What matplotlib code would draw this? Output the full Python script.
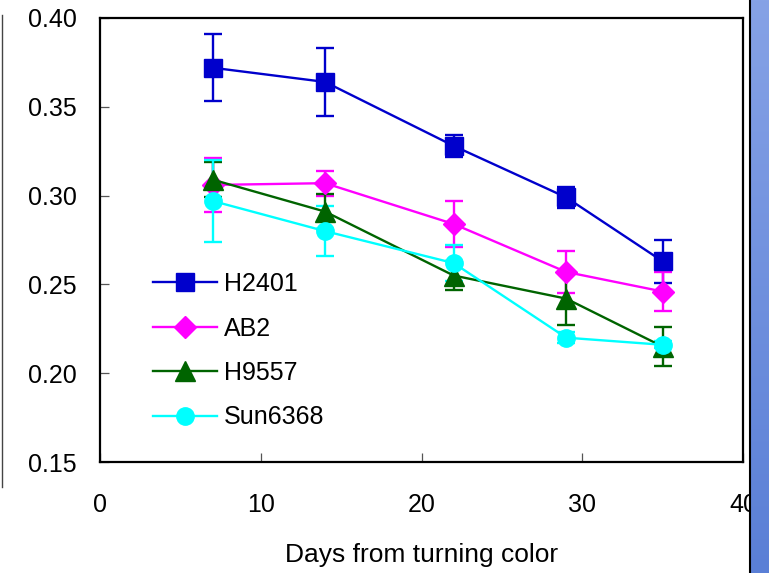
import matplotlib
matplotlib.use("Agg")
import matplotlib.pyplot as plt
import numpy as np
from matplotlib.lines import Line2D
from matplotlib.colors import LinearSegmentedColormap

plt.rcParams['font.family'] = ['Liberation Sans', 'DejaVu Sans']

days = [7, 14, 22, 29, 35]
series_names = ["H2401", "AB2", "H9557", "Sun6368"]
h2401 = [0.372, 0.364, 0.328, 0.299, 0.263]
h2401_err = [0.019, 0.019, 0.006, 0.006, 0.012]
ab2 = [0.306, 0.307, 0.284, 0.257, 0.246]
ab2_err = [0.015, 0.007, 0.013, 0.012, 0.011]
h9557 = [0.309, 0.291, 0.255, 0.242, 0.215]
h9557_err = [0.010, 0.010, 0.008, 0.015, 0.011]
sun6368 = [0.297, 0.280, 0.262, 0.220, 0.216]
sun6368_err = [0.023, 0.014, 0.010, 0.003, 0.002]

colors = ["#0000cc", "#ff00ff", "#006400", "#00ffff"]
markers = ["s", "D", "^", "o"]
msizes = [13, 11, 14, 12.5]

fig = plt.figure(figsize=(7.69, 5.73), dpi=100)
ax = fig.add_axes([100/769, 1-462/573, (743-100)/769, (462-18)/573])

for name, vals, errs, c, m, ms in zip(series_names, [h2401, ab2, h9557, sun6368],
                                      [h2401_err, ab2_err, h9557_err, sun6368_err],
                                      colors, markers, msizes):
    ax.errorbar(days, vals, yerr=errs, color=c, marker=m, markersize=ms,
                linewidth=1.7, elinewidth=1.7, capsize=6.5, capthick=1.7, label=name)

ax.set_xlim(0, 40)
ax.set_ylim(0.15, 0.40)
ax.set_xticks([0, 10, 20, 30, 40])
ax.set_yticks([0.15, 0.20, 0.25, 0.30, 0.35, 0.40])
ax.set_yticklabels(["0.15", "0.20", "0.25", "0.30", "0.35", "0.40"])
ax.tick_params(direction='in', length=6.5, width=0.9, color="#555555", labelsize=18,
               top=False, right=False)
ax.tick_params(axis='y', pad=17)
ax.tick_params(axis='x', pad=22)
for s in ax.spines.values():
    s.set_linewidth(1.6)
ax.set_xlabel("Days from turning color", fontsize=19, labelpad=19)

handles = [Line2D([0], [0], color=c, marker=m, markersize=ms, linewidth=1.7)
           for c, m, ms in zip(colors, markers, msizes)]
ax.legend(handles, series_names, loc='upper left', bbox_to_anchor=(53/643, (462-272)/444),
          frameon=False, fontsize=18, handlelength=2.56, labelspacing=0.82,
          handletextpad=0.28, borderpad=0, borderaxespad=0)

# left thin border line
fig.add_artist(Line2D([1.5/769, 1.5/769], [1-487/573, 1-15/573], color="#444444", linewidth=1.0))
# right blue bar with gradient
grad_ax = fig.add_axes([751/769, 0, 18/769, 1])
grad = np.linspace(0, 1, 256).reshape(-1, 1)
cmap = LinearSegmentedColormap.from_list("b", ["#86a2e6", "#5a7fd6"])
grad_ax.imshow(grad, aspect='auto', cmap=cmap, extent=[0, 1, 0, 1], origin='upper')
grad_ax.axis('off')
fig.add_artist(Line2D([750/769, 750/769], [0, 1], color="black", linewidth=1.5))

fig.savefig("out.png", dpi=100, facecolor="white")
